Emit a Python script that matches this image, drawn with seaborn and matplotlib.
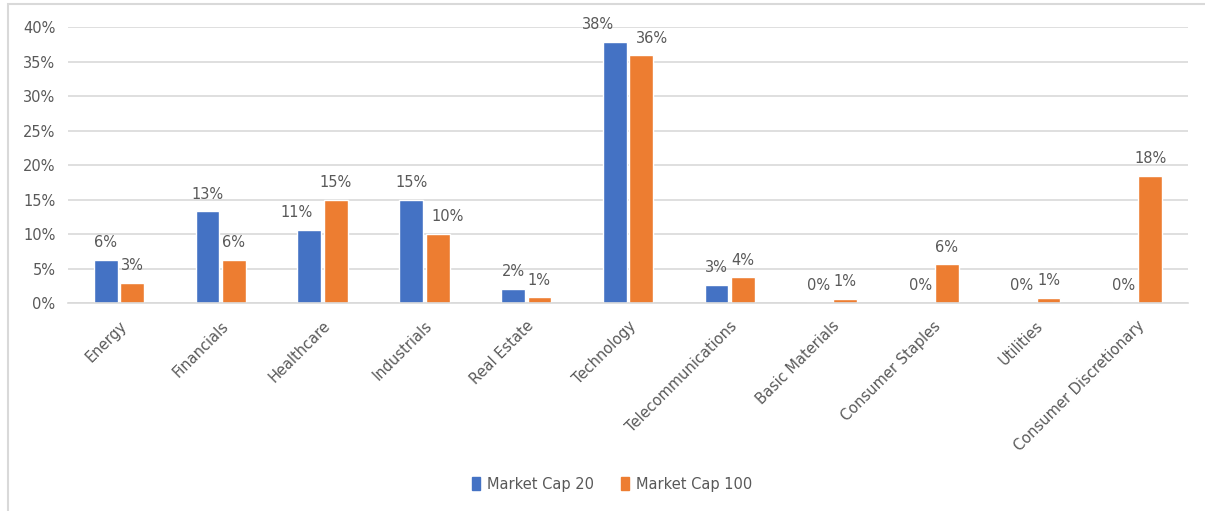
import matplotlib
matplotlib.use("Agg")
import matplotlib.pyplot as plt
import matplotlib.patches as mpatches
from matplotlib.ticker import PercentFormatter
import seaborn as sns
import pandas as pd

categories = ["Energy", "Financials", "Healthcare", "Industrials", "Real Estate",
              "Technology", "Telecommunications", "Basic Materials",
              "Consumer Staples", "Utilities", "Consumer Discretionary"]
market_cap_20 = [0.062, 0.133, 0.106, 0.150, 0.020, 0.378, 0.026, 0.0, 0.0, 0.0, 0.0]
market_cap_100 = [0.029, 0.062, 0.150, 0.100, 0.008, 0.359, 0.037, 0.006, 0.056, 0.007, 0.184]
series_names = ["Market Cap 20", "Market Cap 100"]
colors = ["#4472C4", "#ED7D31"]
yticks = [0.0, 0.05, 0.10, 0.15, 0.20, 0.25, 0.30, 0.35, 0.40]

# style: manual horizontal nudges (pixels) of some data labels, as in the original
label_nudge_px = {(0, "Healthcare"): -13, (1, "Industrials"): 10,
                  (0, "Technology"): -17, (1, "Technology"): 11}

df = pd.DataFrame({
    "Sector": categories * 2,
    "Share": market_cap_20 + market_cap_100,
    "Series": [series_names[0]] * len(categories) + [series_names[1]] * len(categories),
})

sns.set_theme(style="white")
plt.rcParams["font.family"] = ["DejaVu Sans"]
text_color = "#595959"
grid_color = "#D9D9D9"

fig = plt.figure(figsize=(12.05, 5.11), dpi=100)
ax = fig.add_axes([68 / 1205, 1 - 303 / 511, (1188 - 68) / 1205, (303 - 27) / 511])

sns.barplot(data=df, x="Sector", y="Share", hue="Series", palette=colors,
            width=0.52, gap=0.1, ax=ax, legend=False, saturation=1)

ax.set_ylim(0, 0.40)
ax.set_yticks(yticks)
ax.yaxis.set_major_formatter(PercentFormatter(1.0, decimals=0))
ax.set_xlim(-0.5, len(categories) - 0.5)
ax.grid(axis="y", color=grid_color, linewidth=1.2)
ax.set_axisbelow(True)
for s in ["top", "right", "left"]:
    ax.spines[s].set_visible(False)
ax.spines["bottom"].set_color(grid_color)
ax.spines["bottom"].set_linewidth(1.2)
ax.set_xlabel("")
ax.set_ylabel("")
ax.tick_params(axis="y", colors=text_color, labelsize=10.5, length=0, pad=9)
ax.tick_params(axis="x", colors=text_color, labelsize=10.5, length=0, pad=11)
for lbl in ax.get_xticklabels():
    lbl.set_rotation(45)
    lbl.set_ha("right")
    lbl.set_va("top")
    lbl.set_rotation_mode("anchor")
    lbl.set_color(text_color)

pad = 7
for si, cont in enumerate(ax.containers):
    anns = ax.bar_label(cont, labels=[f"{v:.0%}" for v in cont.datavalues],
                        padding=pad, color=text_color, fontsize=10.5)
    for cat, ann in zip(categories, anns):
        dx = label_nudge_px.get((si, cat), 0)
        if dx:
            ann.xyann = (dx * 0.72, pad)

handles = [mpatches.Patch(color=c, label=n) for c, n in zip(colors, series_names)]
fig.legend(handles=handles, loc="center", bbox_to_anchor=(0.508, 1 - 484 / 511),
           ncol=2, frameon=False, handlelength=0.55, handleheight=0.9,
           handletextpad=0.5, columnspacing=1.8, fontsize=10.5, labelcolor=text_color)

border = mpatches.Rectangle((8 / 1205, -0.05), 1.1, 1 - 4 / 511 + 0.05,
                            transform=fig.transFigure, fill=False,
                            edgecolor="#D9D9D9", linewidth=1.5)
fig.patches.append(border)

fig.savefig("out.png", dpi=100)
